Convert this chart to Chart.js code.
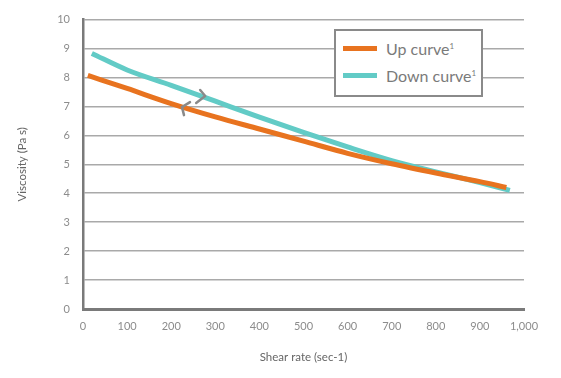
<!DOCTYPE html>
<html>
<head>
<meta charset="utf-8">
<script src="https://cdn.jsdelivr.net/npm/chart.js@4/dist/chart.umd.min.js"></script>
<style>
  html, body { margin: 0; padding: 0; background: #fff; }
  #wrap { position: relative; width: 561px; height: 378px; }
  #legend {
    position: absolute; left: 334px; top: 29px; width: 149px; height: 68px;
    box-sizing: border-box; border: 2px solid #8a8a8a; background: #fff;
    font-family: Lato, "Open Sans", sans-serif; font-size: 16px; color: #7a7a7a;
  }
  .row { position: absolute; left: 7px; display: flex; align-items: center; height: 20px; }
  .sw { width: 34px; height: 5px; margin-right: 9px; }
  sup { font-size: 8px; vertical-align: 6px; }
</style>
</head>
<body>
<div id="wrap">
  <canvas id="c" width="561" height="378"></canvas>
  <div id="legend">
    <div class="row" style="top:7px"><span class="sw" style="background:#e8731f"></span><span>Up curve<sup>1</sup></span></div>
    <div class="row" style="top:34px"><span class="sw" style="background:#62cbc6"></span><span>Down curve<sup>1</sup></span></div>
  </div>
</div>
<script>
// Data
const upShear   = [11, 100, 200, 300, 400, 500, 600, 700, 800, 900, 960];
const upVisc    = [8.07, 7.62, 7.1, 6.64, 6.22, 5.8, 5.38, 5.02, 4.7, 4.4, 4.2];
const downShear = [20, 100, 200, 300, 400, 500, 600, 700, 800, 900, 968];
const downVisc  = [8.83, 8.26, 7.73, 7.18, 6.63, 6.1, 5.6, 5.13, 4.74, 4.37, 4.1];
const xTicks = [0, 100, 200, 300, 400, 500, 600, 700, 800, 900, 1000];
const yTicks = [0, 1, 2, 3, 4, 5, 6, 7, 8, 9, 10];
const seriesNames = ['Up curve', 'Down curve'];
// Direction chevrons: [shear, viscosity, direction]
const arrowMarks = [[229, 6.94, -1], [268, 7.29, 1]];

const pts = (xs, ys) => xs.map((x, i) => ({ x, y: ys[i] }));

const chevronPlugin = {
  id: 'chevrons',
  afterDatasetsDraw(chart) {
    const { ctx, scales: { x, y } } = chart;
    ctx.save();
    ctx.strokeStyle = '#8a8a8a';
    ctx.lineWidth = 2.5;
    ctx.lineCap = 'round';
    ctx.lineJoin = 'round';
    arrowMarks.forEach(([sx, vy, dir]) => {
      const px = x.getPixelForValue(sx), py = y.getPixelForValue(vy);
      ctx.beginPath();
      if (dir < 0) {
        ctx.moveTo(px + 6, py - 6);
        ctx.lineTo(px - 2, py - 1);
        ctx.lineTo(px, py + 7);
      } else {
        ctx.moveTo(px - 1, py - 8);
        ctx.lineTo(px + 4, py - 2);
        ctx.lineTo(px - 5, py + 5);
      }
      ctx.stroke();
    });
    ctx.restore();
  }
};

const font = 'Lato, "Open Sans", sans-serif';
new Chart(document.getElementById('c'), {
  type: 'line',
  data: {
    datasets: [
      { label: seriesNames[0], data: pts(upShear, upVisc), borderColor: '#e8731f', borderWidth: 5,
        pointRadius: 0, cubicInterpolationMode: 'monotone', fill: false },
      { label: seriesNames[1], data: pts(downShear, downVisc), borderColor: '#62cbc6', borderWidth: 5,
        pointRadius: 0, cubicInterpolationMode: 'monotone', fill: false }
    ]
  },
  options: {
    responsive: false,
    animation: false,
    layout: { padding: { left: 10, top: 18, right: 37, bottom: 0 } },
    plugins: { legend: { display: false }, tooltip: { enabled: false } },
    scales: {
      x: {
        type: 'linear', min: 0, max: 1000,
        afterBuildTicks: s => { s.ticks = xTicks.map(v => ({ value: v })); },
        afterFit: s => { s.height = 69; },
        ticks: { padding: 11, color: '#8c8c8c', font: { family: font, size: 11 },
                 callback: v => v.toLocaleString('en-US') },
        grid: { display: false, drawTicks: false },
        border: { display: true, color: '#7a7a7a', width: 3 },
        title: { display: true, text: 'Shear rate (sec-1)', color: '#666', font: { family: font, size: 11.5 },
                 padding: { top: 0, bottom: 14 } }
      },
      y: {
        min: 0, max: 10,
        afterBuildTicks: s => { s.ticks = yTicks.map(v => ({ value: v })); },
        afterFit: s => { s.width = 73; },
        ticks: { padding: 13, color: '#8c8c8c', font: { family: font, size: 11 } },
        grid: { color: '#a9a9a9', lineWidth: 1.5, drawTicks: false },
        border: { display: true, color: '#7a7a7a', width: 2.5 },
        title: { display: true, text: 'Viscosity (Pa s)', color: '#666', font: { family: font, size: 11.5 },
                 padding: { top: 5, bottom: 0 } }
      }
    }
  },
  plugins: [chevronPlugin]
});
</script>
</body>
</html>
